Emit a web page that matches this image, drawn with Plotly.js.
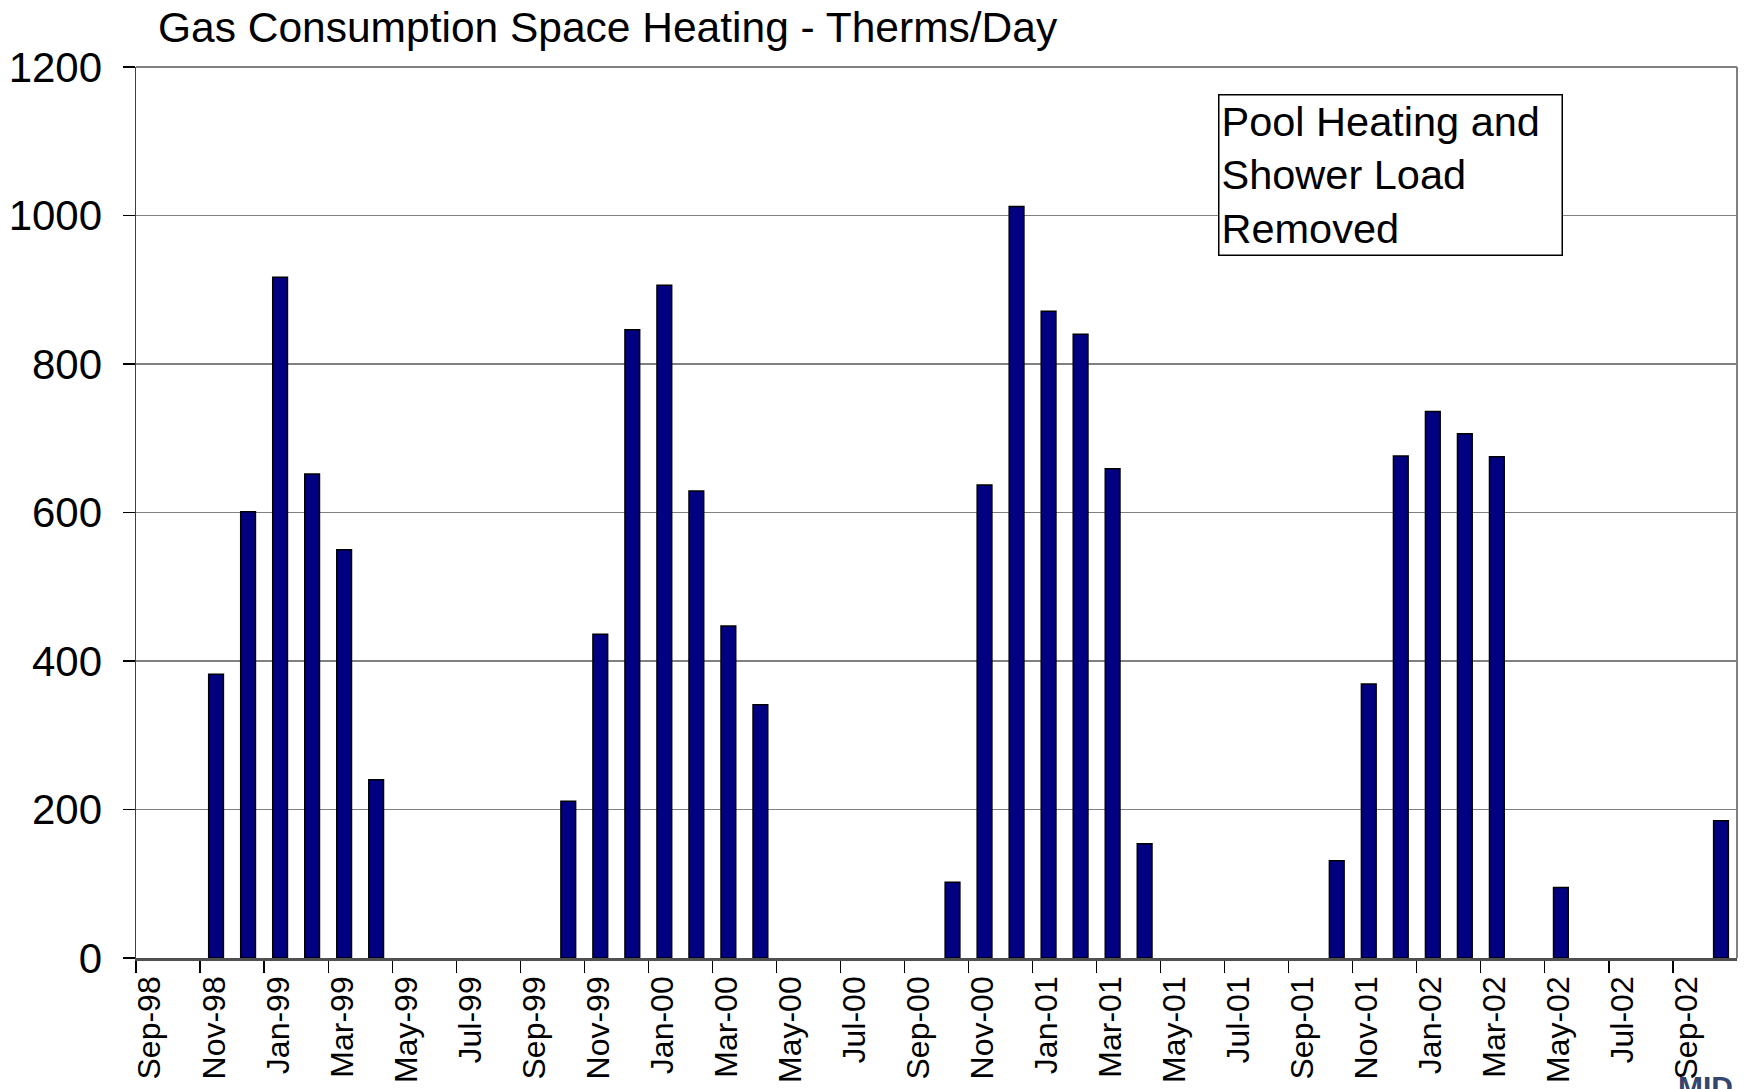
<!DOCTYPE html>
<html>
<head>
<meta charset="utf-8">
<script src="https://cdn.plot.ly/plotly-3.0.1.min.js"></script>
<style>html,body{margin:0;padding:0;background:#fff;}#chart{width:1744px;height:1089px;}</style>
</head>
<body>
<div id="chart"></div>
<script>
// Monthly categories (Sep-98 .. Oct-02)
const months = ['Sep-98','Oct-98','Nov-98','Dec-98','Jan-99','Feb-99','Mar-99','Apr-99','May-99','Jun-99','Jul-99','Aug-99',
  'Sep-99','Oct-99','Nov-99','Dec-99','Jan-00','Feb-00','Mar-00','Apr-00','May-00','Jun-00','Jul-00','Aug-00',
  'Sep-00','Oct-00','Nov-00','Dec-00','Jan-01','Feb-01','Mar-01','Apr-01','May-01','Jun-01','Jul-01','Aug-01',
  'Sep-01','Oct-01','Nov-01','Dec-01','Jan-02','Feb-02','Mar-02','Apr-02','May-02','Jun-02','Jul-02','Aug-02',
  'Sep-02','Oct-02'];
// Therms/Day (null = no bar)
const therms = [null,null,382,601,917,652,550,240,null,null,null,null,
  null,211,436,846,906,629,447,341,null,null,null,null,
  null,102,637,1012,871,840,659,154,null,null,null,null,
  null,131,369,676,736,706,675,null,95,null,null,null,
  null,185];
// Tick labels every second month
const tickLabels = months.filter((m,i)=>i%2===0);
const yTicks = [0,200,400,600,800,1000,1200];

const FONT = '"Liberation Sans", Arial, Helvetica, sans-serif';
const xPos = months.map((m,i)=>i+0.5);
const boundaries = months.map((m,i)=>i).filter(i=>i%2===0);
const labelPos = boundaries.map(b=>b+0.44);

const trace = {
  type:'bar', x:xPos, y:therms, width:0.46,
  marker:{color:'#000080', line:{color:'#000000', width:1.5}},
  hoverinfo:'skip'
};

const layout = {
  width:1744, height:1089,
  margin:{l:136, r:7, t:67, b:131, pad:0},
  paper_bgcolor:'#ffffff', plot_bgcolor:'#ffffff',
  showlegend:false,
  font:{family:FONT, color:'#000'},
  title:{text:'Gas Consumption Space Heating - Therms/Day', font:{family:FONT, size:42.5, color:'#000'},
    xref:'container', yref:'container', x:0.0906, xanchor:'left', y:0.975, yanchor:'middle'},
  xaxis:{range:[0, months.length], tickmode:'array', tickvals:labelPos, ticktext:tickLabels,
    ticks:'', tickangle:-90, tickfont:{family:FONT, size:32, color:'#000'}, ticklabelstandoff:3,
    minor:{tickmode:'array', tickvals:boundaries, ticks:'outside', ticklen:12, tickwidth:1.2, tickcolor:'#000', showgrid:false},
    showgrid:false, zeroline:false, showline:true, linecolor:'#505050', linewidth:2.5, fixedrange:true},
  yaxis:{range:[0,1200], tickmode:'array', tickvals:yTicks, ticktext:yTicks.map(String),
    ticks:'outside', ticklen:12, tickwidth:1.2, tickcolor:'#000', tickfont:{family:FONT, size:42, color:'#000'},
    ticklabelstandoff:12,
    showgrid:true, gridcolor:'#808080', gridwidth:1.2, zeroline:false, showline:true, linecolor:'#404040', linewidth:1.5, fixedrange:true},
  shapes:[
    {type:'line', xref:'paper', yref:'paper', x0:0, x1:1, y0:1, y1:1, line:{color:'#808080', width:2}},
    {type:'line', xref:'paper', yref:'paper', x0:1, x1:1, y0:0, y1:1, line:{color:'#808080', width:2}}
  ],
  annotations:[
    {text:'Pool Heating and<br>Shower Load<br>Removed', xref:'paper', yref:'paper', x:0.6758, y:0.970,
     xanchor:'left', yanchor:'top', align:'left', valign:'middle', showarrow:false,
     font:{family:FONT, size:41.5, color:'#000'}, bgcolor:'#ffffff', bordercolor:'#000', borderwidth:1.5,
     borderpad:2, width:338},
    {text:'<b>MID</b>', xref:'paper', yref:'paper', x:0.962, y:-0.124, xanchor:'left', yanchor:'top',
     showarrow:false, font:{family:FONT, size:30, color:'#34466e'}}
  ]
};

Plotly.newPlot('chart', [trace], layout, {displayModeBar:false, staticPlot:true});
</script>
</body>
</html>
